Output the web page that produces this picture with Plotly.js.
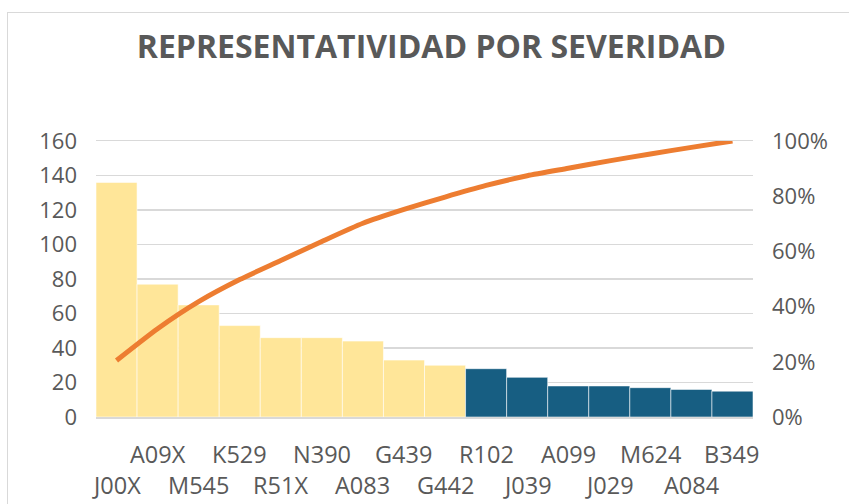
<!DOCTYPE html>
<html>
<head>
<meta charset="utf-8">
<script src="https://cdn.plot.ly/plotly-3.0.1.min.js"></script>
<style>
  html, body { margin: 0; padding: 0; background: #ffffff; }
  #wrap { position: relative; width: 849px; height: 504px; overflow: hidden; }
  #frame { position: absolute; left: 7px; top: 12px; width: 900px; height: 600px;
           border: 1px solid #d9d9d9; box-sizing: border-box; }
  #chart { position: absolute; left: 0; top: 0; width: 849px; height: 504px; }
</style>
</head>
<body>
<div id="wrap">
  <div id="frame"></div>
  <div id="chart"></div>
</div>
<script>
// Data
const categories = ["J00X","A09X","M545","K529","R51X","N390","A083","G439","G442",
                    "R102","J039","A099","J029","M624","A084","B349"];
const counts     = [136, 77, 65, 53, 46, 46, 44, 33, 30, 28, 23, 18, 18, 17, 16, 15];
const cumulative = [0.205, 0.32, 0.418, 0.498, 0.567, 0.636, 0.702, 0.752, 0.797,
                    0.839, 0.874, 0.901, 0.928, 0.953, 0.977, 1.0];
const vitalFew   = 9; // first bars drawn in yellow
const leftTicks  = [0, 20, 40, 60, 80, 100, 120, 140, 160];
const rightTicks = [0, 0.2, 0.4, 0.6, 0.8, 1.0];
const rightTickLabels = ["0%", "20%", "40%", "60%", "80%", "100%"];

const yellow = "#FFE699";
const blue = "#175E82";
const orange = "#ED7D31";
const grey = "#595959";
const gridc = "#d9d9d9";
const fontFam = "Open Sans, Noto Sans, sans-serif";

const barColors = categories.map((c, i) => i < vitalFew ? yellow : blue);

const traces = [
  {
    type: "bar",
    x: categories,
    y: counts,
    marker: { color: barColors, line: { color: "rgba(255,255,255,0.55)", width: 1 } },
    hoverinfo: "x+y"
  },
  {
    type: "scatter",
    mode: "lines",
    x: categories,
    y: cumulative,
    yaxis: "y2",
    line: { color: orange, width: 5, shape: "spline", smoothing: 0.6 },
    hoverinfo: "x+y"
  }
];

const annotations = categories.map((c, i) => ({
  x: c, xref: "x",
  y: i % 2 === 1 ? -0.135 : -0.247, yref: "paper",
  text: c, showarrow: false,
  xanchor: "center", yanchor: "middle",
  font: { family: fontFam, size: 23.5, color: grey }
}));

const layout = {
  width: 849, height: 504,
  margin: { l: 96, r: 96, t: 141, b: 87, pad: 0 },
  paper_bgcolor: "rgba(0,0,0,0)",
  plot_bgcolor: "rgba(0,0,0,0)",
  showlegend: false,
  bargap: 0,
  title: {
    text: "<b>REPRESENTATIVIDAD POR SEVERIDAD</b>",
    font: { family: fontFam, size: 32, color: grey },
    x: 0.508, xanchor: "center",
    y: 0.908, yanchor: "middle"
  },
  xaxis: {
    type: "category",
    range: [-0.5, categories.length - 0.5],
    showticklabels: false,
    showgrid: false,
    showline: true, linecolor: gridc, linewidth: 1.5, mirror: true,
    ticks: "", zeroline: false
  },
  yaxis: {
    range: [0, 160],
    tickvals: leftTicks,
    ticktext: leftTicks.map(String),
    showgrid: true, gridcolor: gridc, gridwidth: 1.5,
    zeroline: false, showline: false,
    ticks: "", ticklabelstandoff: 18,
    tickfont: { family: fontFam, size: 22, color: grey }
  },
  yaxis2: {
    overlaying: "y", side: "right",
    range: [0, 1],
    tickvals: rightTicks,
    ticktext: rightTickLabels,
    showgrid: false, zeroline: false, showline: false,
    ticks: "", ticklabelstandoff: 18,
    tickfont: { family: fontFam, size: 22, color: grey }
  },
  annotations: annotations
};

Plotly.newPlot("chart", traces, layout, { displayModeBar: false, staticPlot: true });
</script>
</body>
</html>
